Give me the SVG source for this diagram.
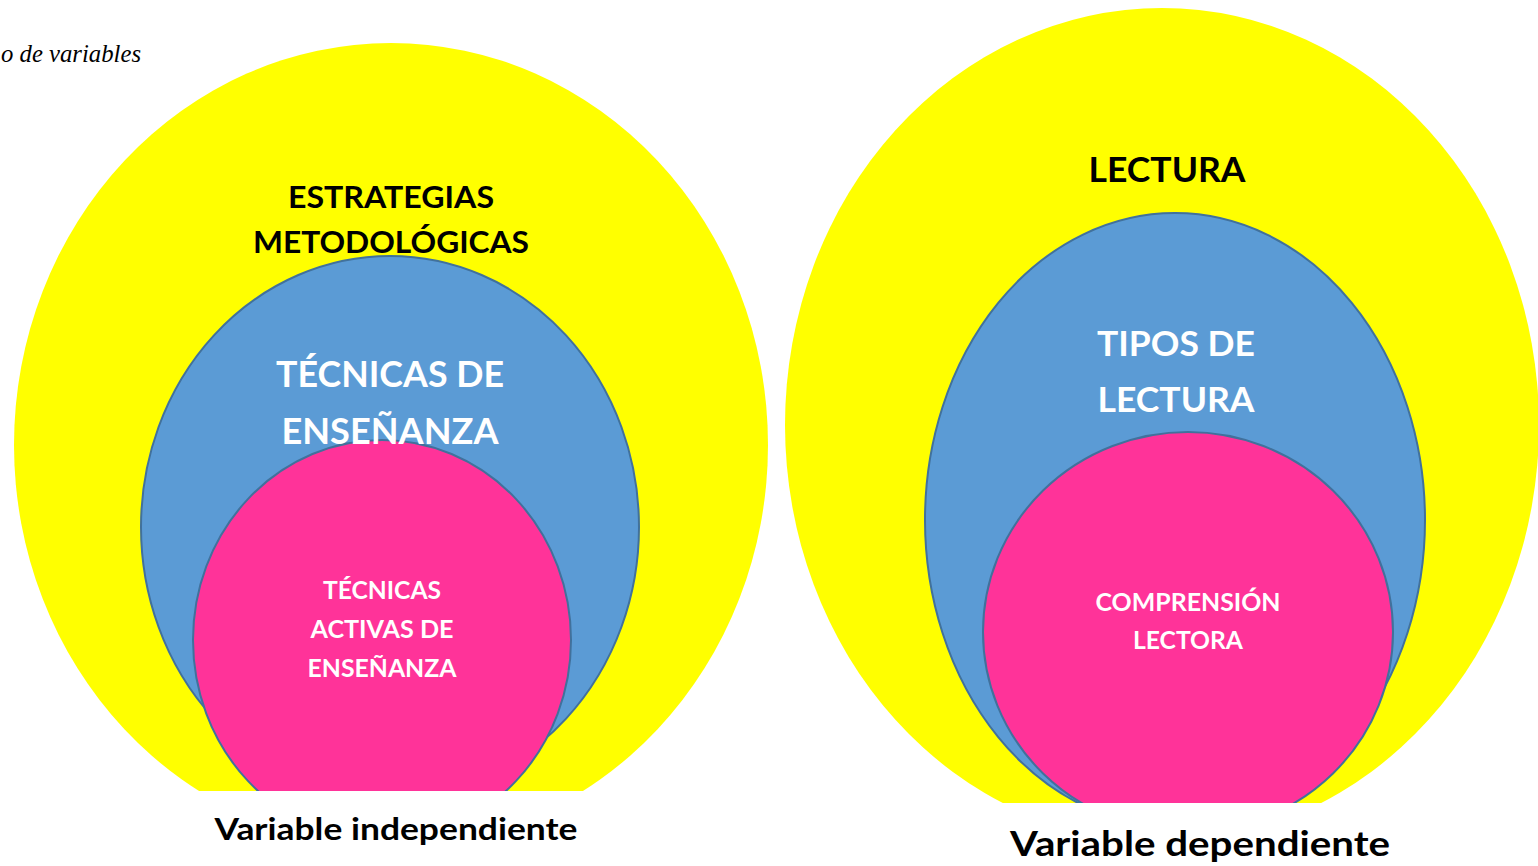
<svg xmlns="http://www.w3.org/2000/svg" width="1538" height="866" viewBox="0 0 1538 866">
<style>
.y{fill:#FFFF00;}
.b{fill:#5B9BD5;stroke:#41719C;stroke-width:2;}
.p{fill:#FF3399;stroke:#41719C;stroke-width:2;}
.t{font-family:Lato,"Open Sans",sans-serif;font-weight:bold;text-anchor:middle;}
.k{fill:#000;}
.w{fill:#fff;}
</style>
<rect width="1538" height="866" fill="#fff"/>
<text x="1" y="62" font-family="'Liberation Serif',serif" font-style="italic" font-size="25" fill="#000" textLength="140" lengthAdjust="spacingAndGlyphs">o de variables</text>
<g id="left">
  <clipPath id="cl"><rect x="0" y="0" width="780" height="791"/></clipPath>
  <g clip-path="url(#cl)">
    <ellipse id="estrategias" class="y" cx="391" cy="445" rx="377" ry="402"/>
    <ellipse id="tecnicas" class="b" cx="390" cy="527" rx="249" ry="271"/>
    <ellipse id="activas" class="p" cx="382" cy="640" rx="189" ry="200"/>
  </g>
  <text class="t k" x="391" y="208" font-size="31" textLength="206" lengthAdjust="spacingAndGlyphs">ESTRATEGIAS</text>
  <text class="t k" x="391" y="253" font-size="31" textLength="276" lengthAdjust="spacingAndGlyphs">METODOLÓGICAS</text>
  <text class="t w" x="390" y="387" font-size="37" textLength="228" lengthAdjust="spacingAndGlyphs">TÉCNICAS DE</text>
  <text class="t w" x="390" y="444" font-size="37" textLength="217" lengthAdjust="spacingAndGlyphs">ENSEÑANZA</text>
  <text class="t w" x="382" y="599" font-size="24" textLength="118" lengthAdjust="spacingAndGlyphs">TÉCNICAS</text>
  <text class="t w" x="382" y="638" font-size="24" textLength="143" lengthAdjust="spacingAndGlyphs">ACTIVAS DE</text>
  <text class="t w" x="382" y="677" font-size="24" textLength="149" lengthAdjust="spacingAndGlyphs">ENSEÑANZA</text>
  <text class="t k" x="396" y="840" font-size="31" textLength="363" lengthAdjust="spacingAndGlyphs">Variable independiente</text>
</g>
<g id="right">
  <clipPath id="cr"><rect x="780" y="0" width="758" height="803"/></clipPath>
  <g clip-path="url(#cr)">
    <ellipse id="lectura" class="y" cx="1162" cy="425" rx="377" ry="417"/>
    <ellipse id="tipos" class="b" cx="1175" cy="520" rx="250" ry="307"/>
    <ellipse id="comprension" class="p" cx="1188" cy="632" rx="205" ry="200"/>
  </g>
  <text class="t k" x="1167" y="182" font-size="34" textLength="157" lengthAdjust="spacingAndGlyphs">LECTURA</text>
  <text class="t w" x="1176" y="356" font-size="34" textLength="158" lengthAdjust="spacingAndGlyphs">TIPOS DE</text>
  <text class="t w" x="1176" y="412" font-size="34" textLength="157" lengthAdjust="spacingAndGlyphs">LECTURA</text>
  <text class="t w" x="1188" y="611" font-size="24" textLength="185" lengthAdjust="spacingAndGlyphs">COMPRENSIÓN</text>
  <text class="t w" x="1188" y="649" font-size="24" textLength="110" lengthAdjust="spacingAndGlyphs">LECTORA</text>
  <text class="t k" x="1200" y="856" font-size="35" textLength="380" lengthAdjust="spacingAndGlyphs">Variable dependiente</text>
</g>
</svg>
